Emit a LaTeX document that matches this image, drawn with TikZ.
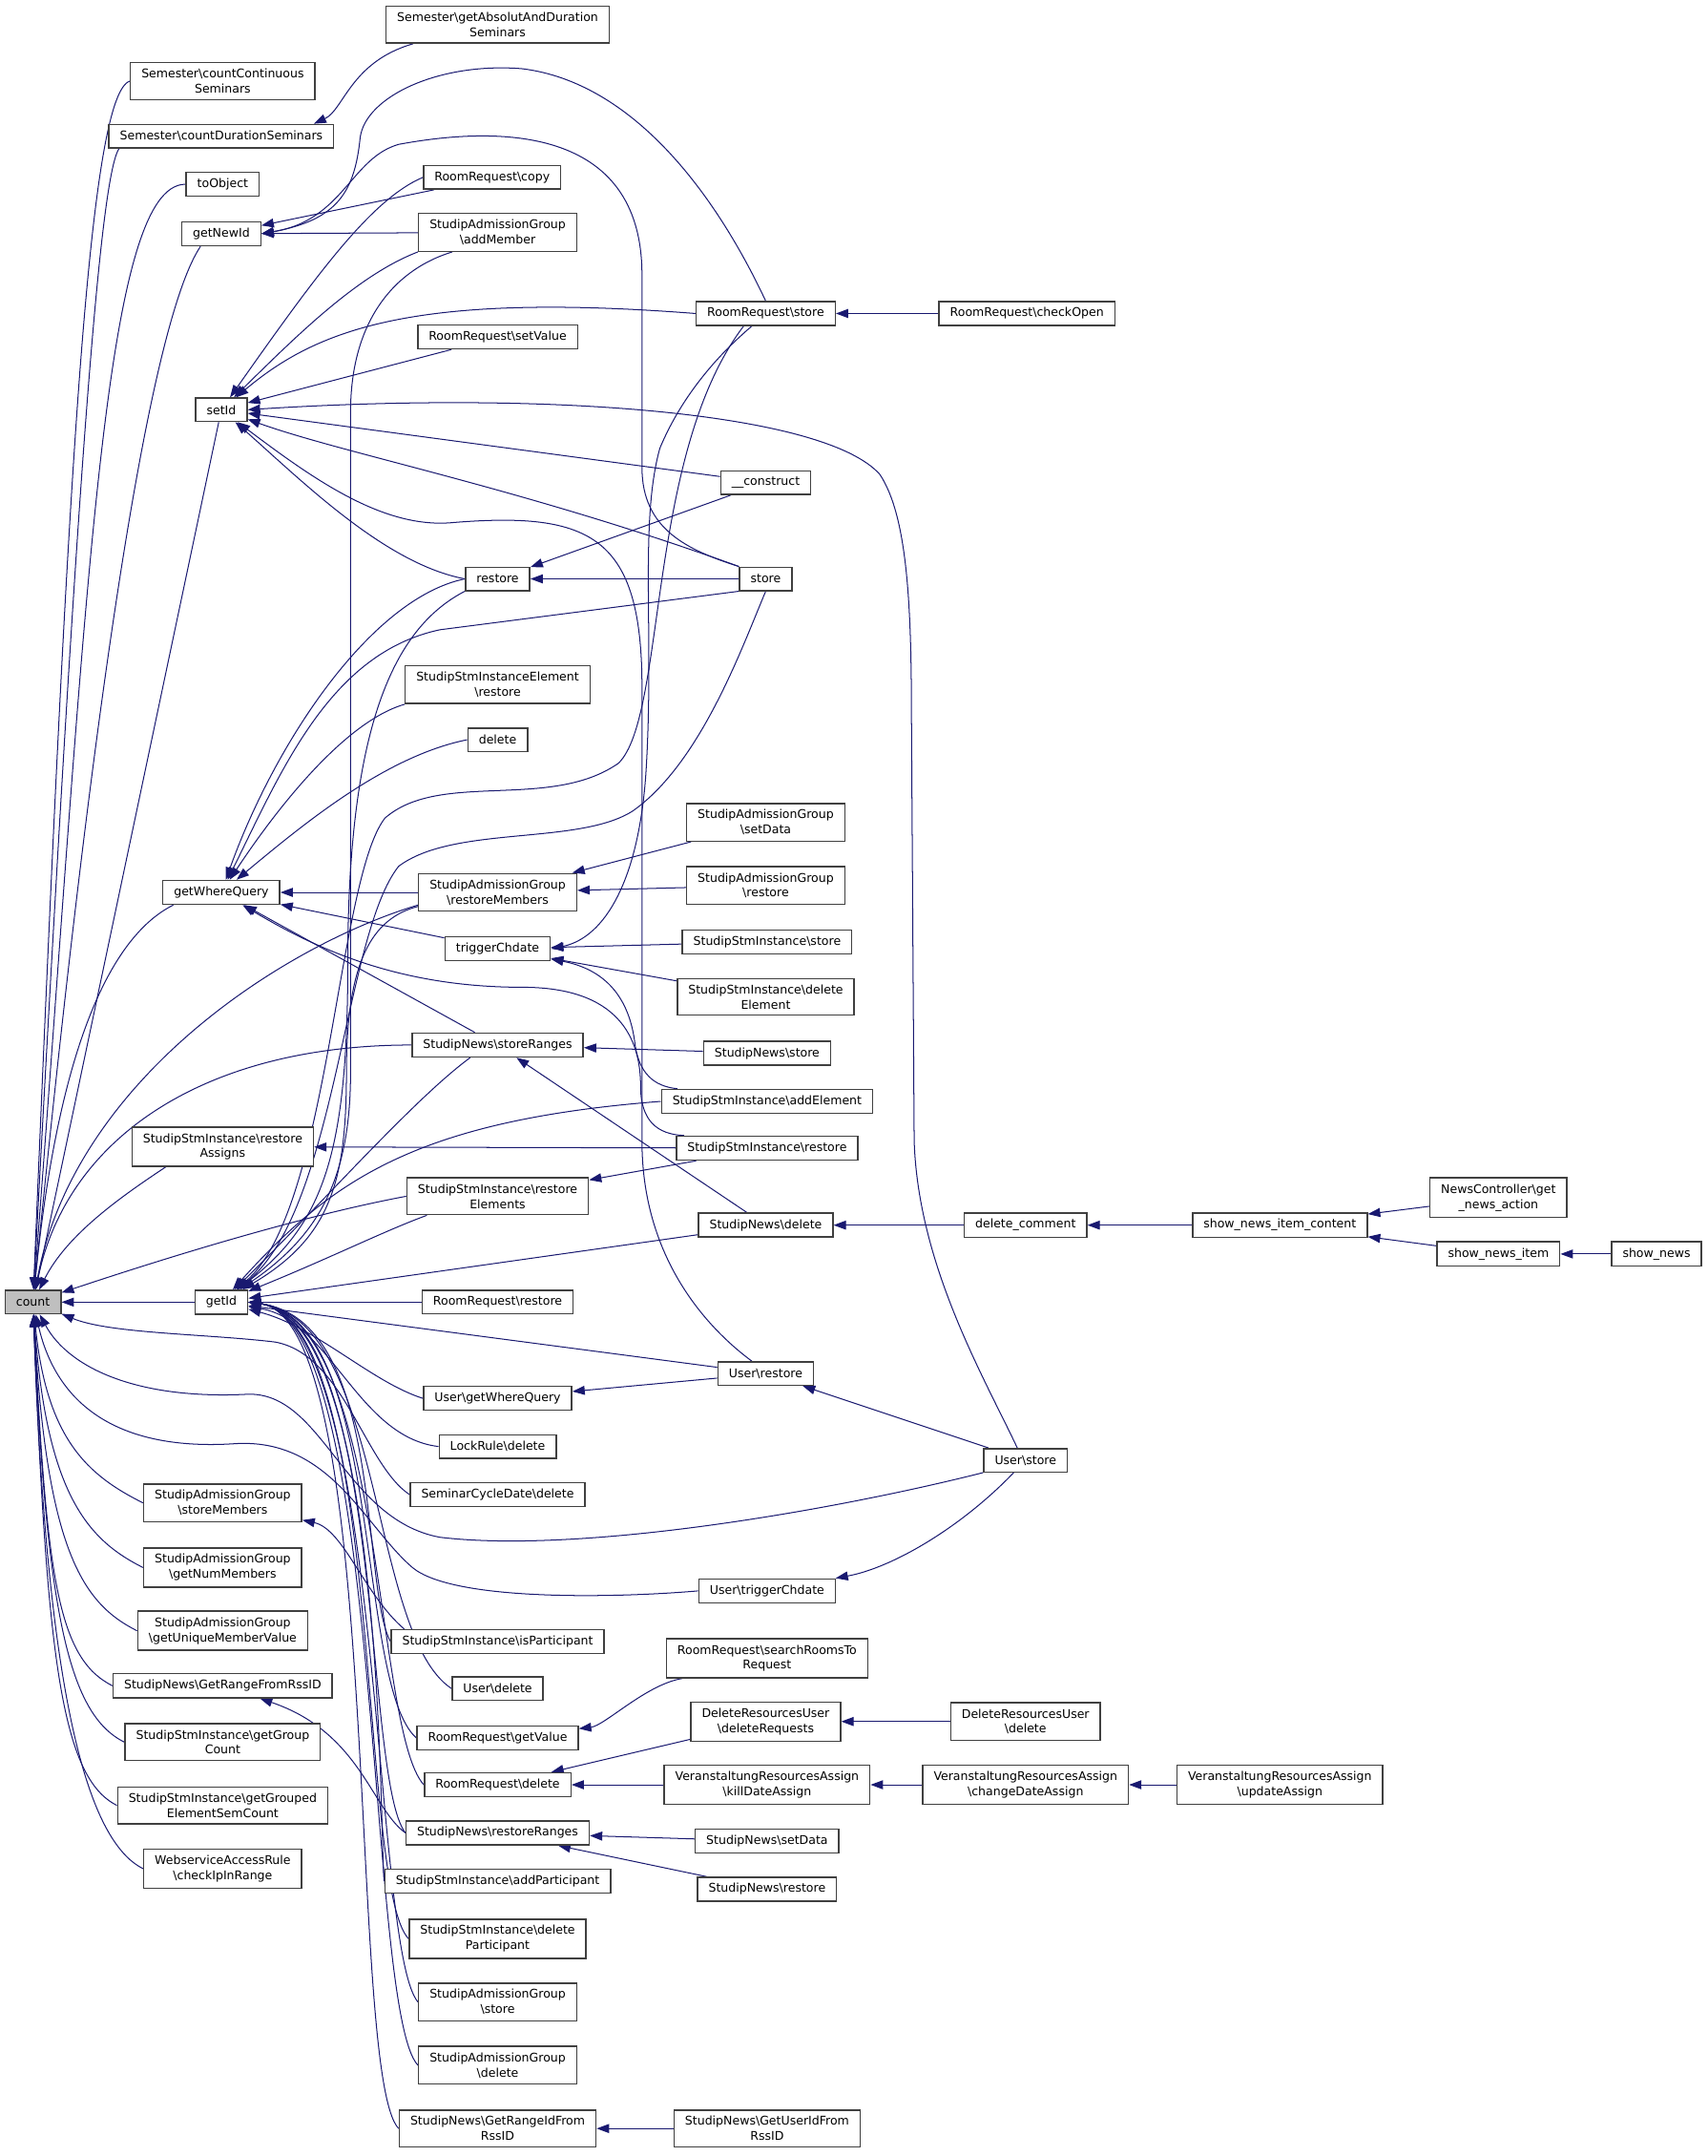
\documentclass[tikz,border=0pt]{standalone}
\usepackage{fontspec}
\setmainfont{DejaVu Sans}
\usetikzlibrary{arrows.meta,backgrounds}
\definecolor{EdgeNavy}{RGB}{25,25,112}
\definecolor{FrameGray}{RGB}{64,64,64}
\definecolor{RootGray}{RGB}{191,191,191}
\newcommand{\bsl}{\textbackslash{}}

\begin{document}
\begin{tikzpicture}[x=1pt,y=-1pt,
  fn/.style={draw=FrameGray,line width=1pt,fill=white,align=center,
    font=\fontsize{8.7}{11}\selectfont,inner xsep=8pt,inner ysep=4.5pt,minimum height=17pt},
  root/.style={fn,fill=RootGray},
  call/.style={draw=EdgeNavy,line width=.7pt,arrows={Triangle[length=9pt,width=6.5pt]-}}]
  \useasboundingbox (0,0) rectangle (1242,1568);

  \node[root] (count) at (24,947) {count};

  \node[fn] (countCont) at (162,59) {Semester\bsl countContinuous\\Seminars};
  \node[fn] (countDur) at (161,99) {Semester\bsl countDurationSeminars};
  \node[fn] (toObject) at (162,134) {toObject};
  \node[fn] (getNewId) at (161,170) {getNewId};
  \node[fn] (setId) at (161,298) {setId};
  \node[fn] (getWhereQuery) at (161,649) {getWhereQuery};
  \node[fn] (restoreAssigns) at (162,834) {StudipStmInstance\bsl restore\\Assigns};
  \node[fn] (getId) at (161,947) {getId};
  \node[fn] (storeMembers) at (162,1093) {StudipAdmissionGroup\\\bsl storeMembers};
  \node[fn] (numMembers) at (162,1140) {StudipAdmissionGroup\\\bsl getNumMembers};
  \node[fn] (uniqueValue) at (162,1186) {StudipAdmissionGroup\\\bsl getUniqueMemberValue};
  \node[fn] (rangeFromRss) at (162,1226) {StudipNews\bsl GetRangeFromRssID};
  \node[fn] (groupCount) at (162,1267) {StudipStmInstance\bsl getGroup\\Count};
  \node[fn] (semCount) at (162,1313) {StudipStmInstance\bsl getGrouped\\ElementSemCount};
  \node[fn] (checkIp) at (162,1359) {WebserviceAccessRule\\\bsl checkIpInRange};

  \node[fn] (getAbsolut) at (362,18) {Semester\bsl getAbsolutAndDuration\\Seminars};
  \node[fn] (rrCopy) at (358,129) {RoomRequest\bsl copy};
  \node[fn] (addMember) at (362,169) {StudipAdmissionGroup\\\bsl addMember};
  \node[fn] (setValue) at (362,245) {RoomRequest\bsl setValue};
  \node[fn] (restore) at (362,421) {restore};
  \node[fn] (sieRestore) at (362,498) {StudipStmInstanceElement\\\bsl restore};
  \node[fn] (plainDelete) at (362,538) {delete};
  \node[fn] (restoreMembers) at (362,649) {StudipAdmissionGroup\\\bsl restoreMembers};
  \node[fn] (triggerChdate) at (362,690) {triggerChdate};
  \node[fn] (storeRanges) at (362,760) {StudipNews\bsl storeRanges};
  \node[fn] (restoreElements) at (362,870) {StudipStmInstance\bsl restore\\Elements};
  \node[fn] (rrRestore) at (362,947) {RoomRequest\bsl restore};
  \node[fn] (userWhere) at (362,1017) {User\bsl getWhereQuery};
  \node[fn] (lockDelete) at (362,1052) {LockRule\bsl delete};
  \node[fn] (scdDelete) at (362,1087) {SeminarCycleDate\bsl delete};
  \node[fn] (isParticipant) at (362,1194) {StudipStmInstance\bsl isParticipant};
  \node[fn] (userDelete) at (362,1228) {User\bsl delete};
  \node[fn] (getValue) at (362,1264) {RoomRequest\bsl getValue};
  \node[fn] (rrDelete) at (362,1298) {RoomRequest\bsl delete};
  \node[fn] (restoreRanges) at (362,1333) {StudipNews\bsl restoreRanges};
  \node[fn] (addParticipant) at (362,1368) {StudipStmInstance\bsl addParticipant};
  \node[fn] (deleteParticipant) at (362,1410) {StudipStmInstance\bsl delete\\Participant};
  \node[fn] (agStore) at (362,1456) {StudipAdmissionGroup\\\bsl store};
  \node[fn] (agDelete) at (362,1502) {StudipAdmissionGroup\\\bsl delete};
  \node[fn] (rangeIdFromRss) at (362,1548) {StudipNews\bsl GetRangeIdFrom\\RssID};

  \node[fn] (rrStore) at (557,228) {RoomRequest\bsl store};
  \node[fn] (construct) at (557,351) {\_\_construct};
  \node[fn] (store) at (557,421) {store};
  \node[fn] (agSetData) at (557,598) {StudipAdmissionGroup\\\bsl setData};
  \node[fn] (agRestore) at (557,644) {StudipAdmissionGroup\\\bsl restore};
  \node[fn] (siStore) at (558,685) {StudipStmInstance\bsl store};
  \node[fn] (siDeleteElement) at (557,725) {StudipStmInstance\bsl delete\\Element};
  \node[fn] (newsStore) at (558,766) {StudipNews\bsl store};
  \node[fn] (addElement) at (558,801) {StudipStmInstance\bsl addElement};
  \node[fn] (siRestore) at (558,835) {StudipStmInstance\bsl restore};
  \node[fn] (newsDelete) at (557,891) {StudipNews\bsl delete};
  \node[fn] (userRestore) at (557,999) {User\bsl restore};
  \node[fn] (userTrigger) at (558,1157) {User\bsl triggerChdate};
  \node[fn] (searchRooms) at (558,1206) {RoomRequest\bsl searchRoomsTo\\Request};
  \node[fn] (deleteRequests) at (557,1252) {DeleteResourcesUser\\\bsl deleteRequests};
  \node[fn] (killDate) at (558,1298) {VeranstaltungResourcesAssign\\\bsl killDateAssign};
  \node[fn] (newsSetData) at (558,1339) {StudipNews\bsl setData};
  \node[fn] (newsRestore) at (558,1374) {StudipNews\bsl restore};
  \node[fn] (userIdFromRss) at (558,1548) {StudipNews\bsl GetUserIdFrom\\RssID};

  \node[fn] (checkOpen) at (747,228) {RoomRequest\bsl checkOpen};
  \node[fn] (deleteComment) at (746,891) {delete\_comment};
  \node[fn] (userStore) at (746,1062) {User\bsl store};
  \node[fn] (druDelete) at (746,1252) {DeleteResourcesUser\\\bsl delete};
  \node[fn] (changeDate) at (746,1298) {VeranstaltungResourcesAssign\\\bsl changeDateAssign};
  \node[fn] (showContent) at (931,891) {show\_news\_item\_content};
  \node[fn] (updateAssign) at (931,1298) {VeranstaltungResourcesAssign\\\bsl updateAssign};
  \node[fn] (getNewsAction) at (1090,871) {NewsController\bsl get\\\_news\_action};
  \node[fn] (showItem) at (1090,912) {show\_news\_item};
  \node[fn] (showNews) at (1205,912) {show\_news};

  \begin{scope}[on background layer]
    % callers of count
    \draw[call] (count) .. controls +(25,-600) and +(-30,10) .. (countCont.west);
    \draw[call] (count) .. controls +(30,-560) and +(-15,20) .. ([xshift=8pt]countDur.south west);
    \draw[call] (count) .. controls +(40,-520) and +(-60,0) .. (toObject.west);
    \draw[call] (count) .. controls +(40,-400) and +(-40,60) .. ([xshift=14pt]getNewId.south west);
    \draw[call] (count) -- (setId);
    \draw[call] (count) .. controls +(20,-200) and +(-40,20) .. ([xshift=8pt]getWhereQuery.south west);
    \draw[call] (count) .. controls +(30,-160) and +(-100,30) .. ([yshift=5pt]restoreMembers.south west);
    \draw[call] (count) .. controls +(25,-120) and +(-150,0) .. (storeRanges.west);
    \draw[call] (count) .. controls +(25,-50) and +(-30,20) .. ([xshift=25pt]restoreAssigns.south west);
    \draw[call] (count) .. controls +(90,-30) and +(-80,15) .. (restoreElements.west);
    \draw[call] (count) -- (getId);
    \draw[call] (count) .. controls (80,970) and (150,970) .. (200,976) .. controls (250,985) and (265,1065) .. (scdDelete.west);
    \draw[call] (count) .. controls (50,995) and (100,1018) .. (180,1014) .. controls (235,1012) and (250,1105) .. (320,1118) .. controls (420,1130) and (600,1100) .. (userStore.south west);
    \draw[call] (count) .. controls (42,1025) and (90,1055) .. (170,1050) .. controls (240,1045) and (265,1110) .. (300,1140) .. controls (330,1165) and (450,1162) .. (userTrigger.west);
    \foreach \n/\k in {storeMembers/100,numMembers/140,uniqueValue/180,rangeFromRss/200,groupCount/230,semCount/260,checkIp/290}
      \draw[call] (count) .. controls +(10,\k) and +(-40,-20) .. (\n.west);

    \draw[call] (getNewId) -- ([xshift=8pt]rrCopy.south west);
    \draw[call] (getNewId) -- (addMember);
    \draw[call] (getNewId.east) .. controls (245,160) and (258,140) .. (262,100) .. controls (266,70) and (320,45) .. (380,50) .. controls (460,60) and (520,140) .. (rrStore.north);
    \draw[call] (getNewId.east) .. controls (250,160) and (255,115) .. (290,105) .. controls (360,92) and (467,90) .. (467,200) -- (467,340) .. controls (467,385) and (500,400) .. (store.north west);
    \draw[call] ([xshift=-15pt]countDur.north east) .. controls (250,80) and (255,45) .. ([xshift=20pt]getAbsolut.south west);

    \draw[call] (setId) .. controls (230,200) and (270,145) .. (rrCopy.west);
    \draw[call] (setId) .. controls (215,245) and (260,200) .. (addMember.south west);
    \draw[call] (setId) .. controls (230,240) and (300,212) .. (rrStore.west);
    \draw[call] (setId) -- ([xshift=25pt]setValue.south west);
    \draw[call] (setId.east) .. controls (400,284) and (600,300) .. (640,345) .. controls (660,375) and (663,440) .. (663,520) -- (665,830) .. controls (668,920) and (715,1000) .. ([xshift=-6pt]userStore.north);
    \draw[call] (setId) -- (construct);
    \draw[call] (setId) .. controls (250,330) and (380,355) .. (store.north west);
    \draw[call] (setId) .. controls (220,350) and (280,410) .. (restore.west);
    \draw[call] (setId) .. controls (230,350) and (280,385) .. (330,380) .. controls (430,372) and (467,390) .. (467,500) -- (467,830) .. controls (467,920) and (520,970) .. ([xshift=-10pt]userRestore.north);

    \draw[call] (restore) -- (construct);
    \draw[call] (restore) -- (store);
    \draw[call] (rrStore) -- (checkOpen);

    \draw[call] (getWhereQuery) .. controls (200,540) and (270,435) .. (restore.west);
    \draw[call] (getWhereQuery) .. controls (205,560) and (240,475) .. (320,458) -- (store.south west);
    \draw[call] (getWhereQuery) .. controls (200,590) and (250,525) .. (sieRestore.south west);
    \draw[call] (getWhereQuery) .. controls (220,600) and (280,550) .. (plainDelete.west);
    \draw[call] (getWhereQuery) -- (restoreMembers);
    \draw[call] (getWhereQuery) -- (triggerChdate);
    \draw[call] (getWhereQuery) -- (storeRanges);
    \draw[call] (getWhereQuery) .. controls (230,690) and (290,718) .. (380,718) .. controls (450,718) and (466,755) .. (466,790) .. controls (466,815) and (478,825) .. ([xshift=6pt]siRestore.north west);

    \draw[call] (restoreMembers) -- (agSetData);
    \draw[call] (restoreMembers) -- (agRestore);

    \draw[call] (triggerChdate.east) .. controls (440,682) and (465,640) .. (470,560) .. controls (476,460) and (465,380) .. (480,326) .. controls (495,290) and (520,260) .. ([xshift=-10pt]rrStore.south);
    \draw[call] (triggerChdate) -- (siStore);
    \draw[call] (triggerChdate) -- (siDeleteElement);
    \draw[call] (triggerChdate) .. controls (440,705) and (458,725) .. (462,760) .. controls (465,780) and (475,790) .. ([xshift=12pt]addElement.north west);

    % callers of getId
    \draw[call] (getId) .. controls (230,900) and (255,860) .. (255,780) -- (255,300) .. controls (255,230) and (290,195) .. ([xshift=25pt]addMember.south west);
    \draw[call] (getId) .. controls (235,890) and (253,840) .. (253,700) .. controls (253,520) and (290,455) .. (restore.south west);
    \draw[call] (getId) .. controls (240,880) and (245,640) .. (280,595) .. controls (320,560) and (400,590) .. (450,555) .. controls (485,520) and (470,330) .. ([xshift=-16pt]rrStore.south);
    \draw[call] (getId) .. controls (245,880) and (250,680) .. (290,630) .. controls (330,600) and (420,615) .. (460,590) .. controls (510,555) and (540,470) .. (store.south);
    \draw[call] (getId) .. controls (240,900) and (252,860) .. (252,780) .. controls (252,700) and (270,668) .. ([yshift=4pt]restoreMembers.south west);
    \draw[call] (getId) .. controls (230,880) and (300,800) .. ([xshift=-20pt]storeRanges.south);
    \draw[call] (getId) .. controls (240,915) and (280,895) .. ([xshift=15pt]restoreElements.south west);
    \draw[call] (getId) .. controls (240,860) and (300,815) .. (addElement.west);
    \draw[call] (getId) -- (newsDelete);
    \draw[call] (getId) -- (rrRestore);
    \draw[call] (getId) -- (userRestore);
    \draw[call] (getId) .. controls (230,965) and (270,1005) .. (userWhere.west);
    \draw[call] (getId) .. controls (240,960) and (260,1045) .. (lockDelete.west);
    \foreach \n/\yy/\xx in {isParticipant/1194/262,userDelete/1228/268,getValue/1264/258,rrDelete/1298/272,restoreRanges/1333/264,addParticipant/1368/276,deleteParticipant/1410/260,agStore/1456/270,agDelete/1502/266,rangeIdFromRss/1548/252}
      \draw[call] (getId.east) .. controls (280,960) and (\xx,{\yy-40}) .. (\n.west);

    \draw[call] (storeRanges) -- (newsStore);
    \draw[call] (storeRanges) -- (newsDelete);
    \draw[call] (restoreAssigns) -- (siRestore);
    \draw[call] (restoreElements) -- (siRestore);
    \draw[call] (newsDelete) -- (deleteComment);
    \draw[call] (deleteComment) -- (showContent);
    \draw[call] (showContent) -- (getNewsAction);
    \draw[call] (showContent) -- (showItem);
    \draw[call] (showItem) -- (showNews);
    \draw[call] (userRestore) -- (userStore);
    \draw[call] (userWhere) -- (userRestore);
    \draw[call] (userTrigger) .. controls (650,1140) and (700,1110) .. (userStore);
    \draw[call] (storeMembers) .. controls (250,1112) and (265,1160) .. ([xshift=10pt]isParticipant.north west);
    \draw[call] (rangeFromRss) .. controls (262,1260) and (270,1315) .. (restoreRanges.west);
    \draw[call] (getValue) .. controls (440,1255) and (470,1225) .. ([xshift=12pt]searchRooms.south west);
    \draw[call] (rrDelete) -- (deleteRequests);
    \draw[call] (rrDelete) -- (killDate);
    \draw[call] (deleteRequests) -- (druDelete);
    \draw[call] (killDate) -- (changeDate);
    \draw[call] (changeDate) -- (updateAssign);
    \draw[call] (restoreRanges) -- (newsSetData);
    \draw[call] (restoreRanges) -- (newsRestore);
    \draw[call] (rangeIdFromRss) -- (userIdFromRss);
  \end{scope}
\end{tikzpicture}
\end{document}
